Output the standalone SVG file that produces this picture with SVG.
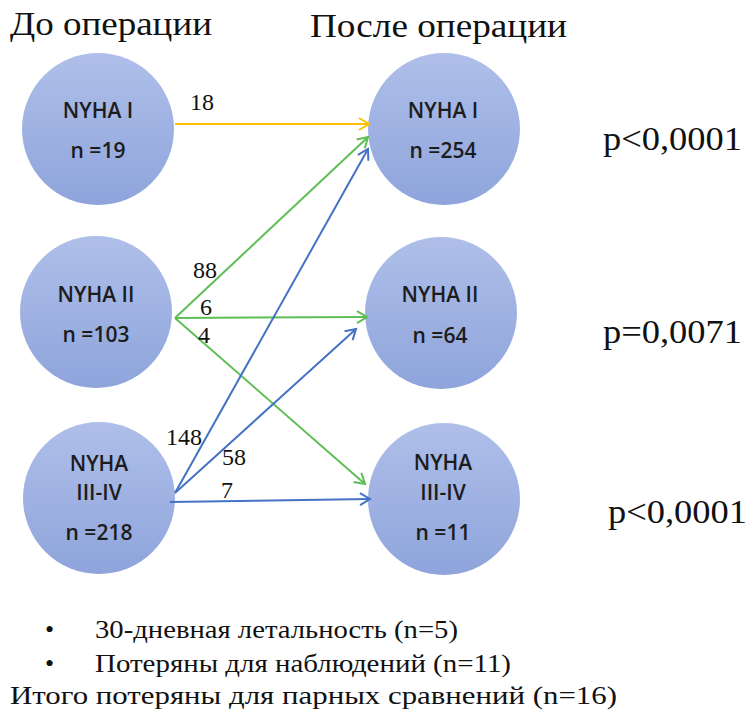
<svg xmlns="http://www.w3.org/2000/svg" width="750" height="718" viewBox="0 0 750 718">
<style>
.node circle{fill:url(#g)}
.nt{font-family:"Open Sans","Liberation Sans",Arial,sans-serif;font-weight:600;font-size:21px;fill:#1c1c1c;text-anchor:middle}
.serif{font-family:"Liberation Serif","Times New Roman",serif;fill:#111}
.title{font-size:33px}
.num{font-size:24px}
.pv{font-size:34px}
.note{font-size:26px}
.y{stroke:#FFC000;stroke-width:2;fill:none}
.gr{stroke:#5DBE56;stroke-width:2;fill:none}
.bl{stroke:#4472C4;stroke-width:2;fill:none}
</style>
<defs>
<linearGradient id="g" x1="0" y1="0" x2="0" y2="1">
<stop offset="0" stop-color="#AFBFE9"/>
<stop offset="1" stop-color="#8EA4DB"/>
</linearGradient>
<marker id="ay" markerUnits="userSpaceOnUse" markerWidth="16" markerHeight="16" refX="13" refY="8" orient="auto"><path d="M3,2 L13,8 L3,14" fill="none" stroke="#FFC000" stroke-width="2"/></marker>
<marker id="ag" markerUnits="userSpaceOnUse" markerWidth="16" markerHeight="16" refX="13" refY="8" orient="auto"><path d="M3,2 L13,8 L3,14" fill="none" stroke="#5DBE56" stroke-width="2"/></marker>
<marker id="ab" markerUnits="userSpaceOnUse" markerWidth="16" markerHeight="16" refX="13" refY="8" orient="auto"><path d="M3,2 L13,8 L3,14" fill="none" stroke="#4472C4" stroke-width="2"/></marker>
</defs>
<rect width="750" height="718" fill="#fff"/>
<text class="serif title" x="10" y="35" textLength="202" lengthAdjust="spacingAndGlyphs">До операции</text>
<text class="serif title" x="310" y="37" textLength="257" lengthAdjust="spacingAndGlyphs">После операции</text>

<g id="pre1" class="node"><circle cx="98" cy="129" r="76"/><text class="nt" x="98" y="118">NYHA I</text><text class="nt" x="98" y="158">n =19</text></g>
<g id="pre2" class="node"><circle cx="96" cy="312" r="76"/><text class="nt" x="96" y="302">NYHA II</text><text class="nt" x="96" y="342">n =103</text></g>
<g id="pre3" class="node"><circle cx="99" cy="498" r="76"/><text class="nt" x="99" y="471">NYHA</text><text class="nt" x="99" y="500">III-IV</text><text class="nt" x="99" y="540">n =218</text></g>
<g id="post1" class="node"><circle cx="444" cy="129" r="76"/><text class="nt" x="443" y="118">NYHA I</text><text class="nt" x="443" y="158">n =254</text></g>
<g id="post2" class="node"><circle cx="441" cy="313" r="76"/><text class="nt" x="440" y="302">NYHA II</text><text class="nt" x="440" y="343">n =64</text></g>
<g id="post3" class="node"><circle cx="444" cy="499" r="76"/><text class="nt" x="443" y="470">NYHA</text><text class="nt" x="443" y="500">III-IV</text><text class="nt" x="443" y="540">n =11</text></g>

<g id="connectors">
<line class="y" x1="175" y1="124" x2="369" y2="124" marker-end="url(#ay)"/>
<line class="gr" x1="175" y1="318" x2="368" y2="137" marker-end="url(#ag)"/>
<line class="gr" x1="175" y1="318" x2="367" y2="317" marker-end="url(#ag)"/>
<line class="gr" x1="175" y1="318" x2="365" y2="484" marker-end="url(#ag)"/>
<line class="bl" x1="175" y1="493" x2="368" y2="149" marker-end="url(#ab)"/>
<line class="bl" x1="175" y1="493" x2="356" y2="329" marker-end="url(#ab)"/>
<line class="bl" x1="170" y1="502" x2="370" y2="499" marker-end="url(#ab)"/>
<text class="serif num" x="190" y="110">18</text>
<text class="serif num" x="193" y="278">88</text>
<text class="serif num" x="200" y="315">6</text>
<text class="serif num" x="198" y="343">4</text>
<text class="serif num" x="166" y="445">148</text>
<text class="serif num" x="222" y="465">58</text>
<text class="serif num" x="221" y="498">7</text>
</g>

<text class="serif pv" x="603" y="150" textLength="139" lengthAdjust="spacingAndGlyphs">p&lt;0,0001</text>
<text class="serif pv" x="603" y="343" textLength="139" lengthAdjust="spacingAndGlyphs">p=0,0071</text>
<text class="serif pv" x="608" y="523" textLength="139" lengthAdjust="spacingAndGlyphs">p&lt;0,0001</text>

<text class="serif note" x="45" y="638">•</text>
<text class="serif note" x="95" y="638" textLength="363" lengthAdjust="spacingAndGlyphs">30-дневная летальность (n=5)</text>
<text class="serif note" x="45" y="672">•</text>
<text class="serif note" x="95" y="672" textLength="416" lengthAdjust="spacingAndGlyphs">Потеряны для наблюдений (n=11)</text>
<text class="serif note" x="10" y="704" textLength="607" lengthAdjust="spacingAndGlyphs">Итого потеряны для парных сравнений (n=16)</text>
</svg>
